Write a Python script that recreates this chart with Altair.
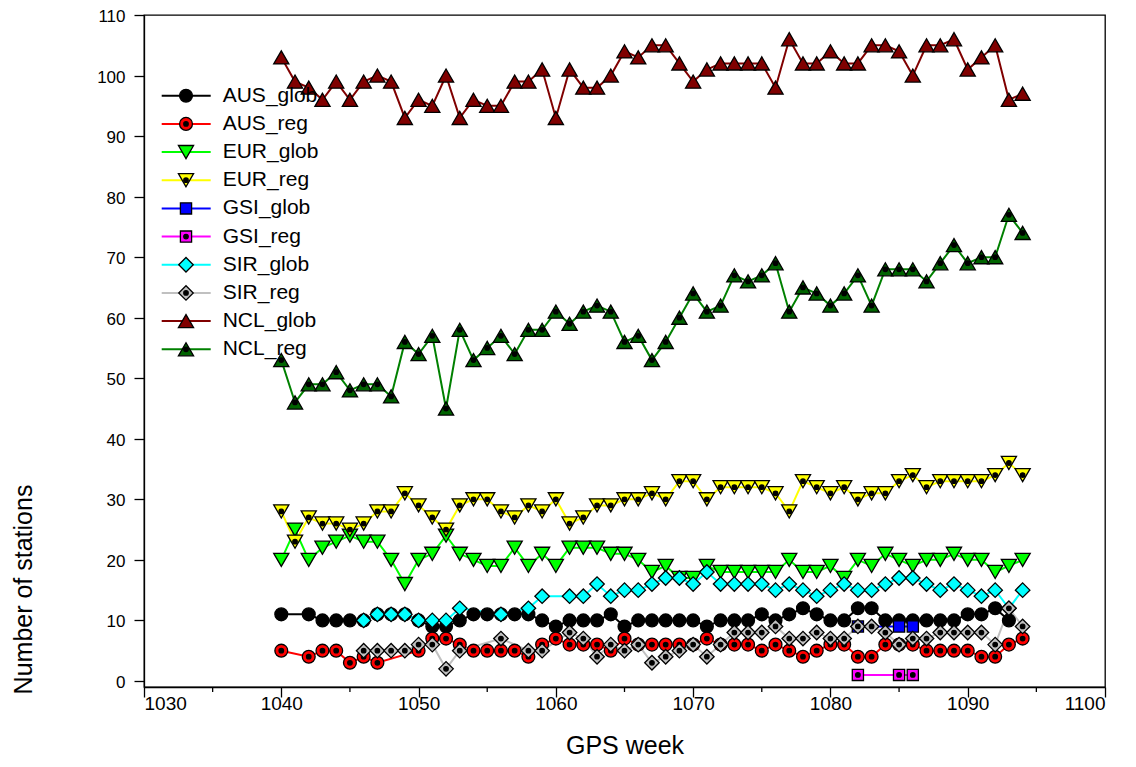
import altair as alt
import pandas as pd

weeks = list(range(1040, 1095))
N = None

aus_glob = [11, N, 11, 10, 10, 10, 10, 11, 11, 11,
            10, 9, 9, 10, 11, 11, 11, 11, 11, 10,
            9, 10, 10, 10, 11, 9, 10, 10, 10, 10,
            10, 9, 10, 10, 10, 11, 10, 11, 12, 11,
            10, 10, 12, 12, 10, 10, 10, 10, 10, 10,
            11, 11, 12, 10, N]
aus_reg = [5, N, 4, 5, 5, 3, 4, 3, N, N,
           5, 7, 7, 6, 5, 5, 5, 5, 4, 6,
           7, 6, 6, 6, 5, 7, 6, 6, 6, 6,
           6, 7, 6, 6, 6, 5, 6, 5, 4, 5,
           6, 6, 4, 4, 6, 6, 6, 5, 5, 5,
           5, 4, 4, 6, 7]
eur_glob = [20, 25, 20, 22, 23, 24, 23, 23, 20, 16,
            20, 21, 24, 21, 20, 19, 19, 22, 19, 21,
            19, 22, 22, 22, 21, 21, 20, 18, 19, 17,
            17, 19, 18, 18, 18, 18, 18, 20, 18, 18,
            19, 17, 20, 19, 21, 20, 19, 20, 20, 21,
            20, 20, 18, 19, 20]
eur_reg = [28, 23, 27, 26, 26, 25, 26, 28, 28, 31,
           29, 27, 25, 29, 30, 30, 28, 27, 29, 28,
           30, 26, 27, 29, 29, 30, 30, 31, 30, 33,
           33, 30, 32, 32, 32, 32, 31, 28, 33, 32,
           31, 32, 30, 31, 31, 33, 34, 32, 33, 33,
           33, 33, 34, 36, 34]
gsi_glob = [N] * 42 + [9, N, N, 9, 9] + [N] * 8
gsi_reg = [N] * 42 + [1, N, N, 1, 1] + [N] * 8
sir_glob = [N, N, N, N, N, N, 10, 11, 11, 11,
            10, 10, 10, 12, N, N, 11, N, 12, 14,
            N, 14, 14, 16, 14, 15, 15, 16, 17, 17,
            16, 18, 16, 16, 16, 16, 15, 16, 15, 14,
            15, 16, 15, 15, 16, 17, 17, 16, 15, 16,
            15, 14, 15, 12, 15]
sir_reg = [N, N, N, N, N, N, 5, 5, 5, 5,
           6, 6, 2, 5, N, N, 7, N, 5, 5,
           N, 8, 7, 4, 6, 5, 6, 3, 4, 5,
           6, 4, 6, 8, 8, 8, 9, 7, 7, 8,
           7, 7, 9, 9, 8, 6, 7, 7, 8, 8,
           8, 8, 6, 12, 9]
ncl_glob = [103, 99, 98, 96, 99, 96, 99, 100, 99, 93,
            96, 95, 100, 93, 96, 95, 95, 99, 99, 101,
            93, 101, 98, 98, 100, 104, 103, 105, 105, 102,
            99, 101, 102, 102, 102, 102, 98, 106, 102, 102,
            104, 102, 102, 105, 105, 104, 100, 105, 105, 106,
            101, 103, 105, 96, 97]
ncl_reg = [53, 46, 49, 49, 51, 48, 49, 49, 47, 56,
           54, 57, 45, 58, 53, 55, 57, 54, 58, 58,
           61, 59, 61, 62, 61, 56, 57, 53, 56, 60,
           64, 61, 62, 67, 66, 67, 69, 61, 65, 64,
           62, 64, 67, 62, 68, 68, 68, 66, 69, 72,
           69, 70, 70, 77, 74]

series_names = ["AUS_glob", "AUS_reg", "EUR_glob", "EUR_reg", "GSI_glob",
                "GSI_reg", "SIR_glob", "SIR_reg", "NCL_glob", "NCL_reg"]
series_values = [aus_glob, aus_reg, eur_glob, eur_reg, gsi_glob,
                 gsi_reg, sir_glob, sir_reg, ncl_glob, ncl_reg]
line_colors = ["#000000", "#FF0000", "#00FF00", "#FFFF00", "#0000FF",
               "#FF00FF", "#00FFFF", "#C0C0C0", "#800000", "#008000"]
fill_colors = ["#000000", "#FF0000", "#00FF00", "#FFFF00", "#0000FF",
               "#FF00FF", "#00FFFF", "#C0C0C0", "#800000", "#006400"]
shapes = ["circle", "circle", "triangle-down", "triangle-down", "square",
          "square", "diamond", "diamond", "triangle-up", "triangle-up"]
sizes = [165, 165, 230, 230, 125, 125, 210, 210, 230, 230]
reg_names = ["AUS_reg", "EUR_reg", "GSI_reg", "SIR_reg", "NCL_reg"]
x_ticks = list(range(1030, 1101, 10))
x_minor = list(range(1035, 1100, 10))
y_ticks = list(range(0, 111, 10))

FONT = "Liberation Sans"
DOT_SIZE = 20

line_rows, pt_rows = [], []
for i, (name, vals) in enumerate(zip(series_names, series_values)):
    for w, v in zip(weeks, vals):
        if v is None:
            continue
        line_rows.append({"week": w, "value": v, "series": name})
        pt_rows.append({"week": w, "value": v, "sym": name, "ord": i * 2,
                        "sz": sizes[i]})
        if name in reg_names:
            pt_rows.append({"week": w, "value": v, "sym": "dot", "ord": i * 2 + 1,
                            "sz": DOT_SIZE})
lines_df = pd.DataFrame(line_rows)
pts_df = pd.DataFrame(pt_rows)

leg_line = pd.DataFrame({"series": series_names, "idx": list(range(len(series_names)))})
leg_rows = []
for i, name in enumerate(series_names):
    leg_rows.append({"sym": name, "idx": i, "ord": i * 2, "sz": sizes[i]})
    if name in reg_names:
        leg_rows.append({"sym": "dot", "idx": i, "ord": i * 2 + 1, "sz": DOT_SIZE})
leg_pts = pd.DataFrame(leg_rows)

sym_domain = series_names + ["dot"]
shape_scale = alt.Scale(domain=sym_domain, range=shapes + ["circle"])
fill_scale = alt.Scale(domain=sym_domain, range=fill_colors + ["#000000"])
color_scale = alt.Scale(domain=series_names, range=line_colors)

xs = alt.Scale(domain=[1030, 1100], nice=False, zero=False)
ys = alt.Scale(domain=[-1, 110], nice=False, zero=False)

x_enc = alt.X("week:Q", scale=xs, axis=alt.Axis(
    values=x_ticks, format="d", tickSize=10, labelFontSize=19, labelFont=FONT,
    labelColor="black", tickColor="black", domainColor="black", grid=False,
    tickWidth=1.3, domainWidth=1.3, labelPadding=-3,
    title="GPS week", titleFont=FONT, titleFontSize=25, titleFontWeight="normal",
    titleColor="black", titleY=58, titleBaseline="middle"))
y_enc = alt.Y("value:Q", scale=ys, axis=alt.Axis(
    values=y_ticks, tickSize=10, labelFontSize=17, labelFont=FONT,
    labelColor="black", tickColor="black", domainColor="black", grid=False,
    tickWidth=1.3, domainWidth=1.3, labelPadding=9, labelOffset=1.5,
    title="Number of stations", titleFont=FONT, titleFontSize=25,
    titleFontWeight="normal", titleColor="black", titleX=-121, titleY=574,
    titleAngle=270, titleAlign="center", titleBaseline="middle"))

lines = alt.Chart(lines_df).mark_line(strokeWidth=2).encode(
    x=x_enc, y=y_enc,
    color=alt.Color("series:N", scale=color_scale, legend=None))

points = alt.Chart(pts_df).mark_point(filled=True, stroke="black", strokeWidth=1.3,
                                      opacity=1).encode(
    x="week:Q", y="value:Q",
    shape=alt.Shape("sym:N", scale=shape_scale, legend=None),
    fill=alt.Fill("sym:N", scale=fill_scale, legend=None),
    size=alt.Size("sz:Q", scale=None, legend=None),
    order=alt.Order("ord:Q"))

minor = alt.Chart(pd.DataFrame({"week": x_minor})).mark_rule(
    color="black", strokeWidth=1.3).encode(
    x="week:Q", y=alt.value(672), y2=alt.value(677))

leg_y = alt.Y("idx:Q", scale=alt.Scale(domain=[0, 9], range=[80.7, 334.3]), axis=None)
leg_lines = alt.Chart(leg_line).mark_rule(strokeWidth=2).encode(
    x=alt.value(17.7), x2=alt.value(66.7), y=leg_y,
    color=alt.Color("series:N", scale=color_scale, legend=None))
leg_syms = alt.Chart(leg_pts).mark_point(filled=True, stroke="black", strokeWidth=1.3,
                                         opacity=1).encode(
    x=alt.value(42), y=leg_y,
    shape=alt.Shape("sym:N", scale=shape_scale, legend=None),
    fill=alt.Fill("sym:N", scale=fill_scale, legend=None),
    size=alt.Size("sz:Q", scale=None, legend=None),
    order=alt.Order("ord:Q"))
leg_text = alt.Chart(leg_line).mark_text(
    align="left", baseline="middle", font=FONT, fontSize=21, color="black").encode(
    x=alt.value(78.7), y=leg_y, text="series:N")

legend = alt.layer(leg_lines, leg_syms, leg_text)
main = alt.layer(lines, minor, points)

chart = alt.layer(main, legend).resolve_scale(y="independent").properties(
    width=961, height=672,
    autosize=alt.AutoSizeParams(type="none"),
    padding={"left": 136, "top": 7, "right": 20, "bottom": 70},
).configure_view(stroke="black", strokeWidth=1.3)

chart.save("out.html", embed_options={"renderer": "svg", "actions": False})
